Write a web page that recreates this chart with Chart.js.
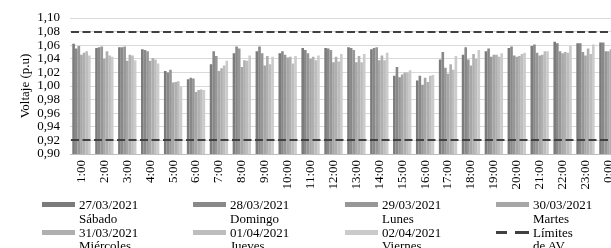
<!DOCTYPE html>
<html><head><meta charset="utf-8">
<script src="https://cdn.jsdelivr.net/npm/chart.js@4"></script>
<style>
html,body{margin:0;padding:0;overflow:hidden;background:#fff;width:611px;height:248px;}
#wrap{position:relative;width:611px;height:248px;overflow:hidden;}
canvas{position:absolute;left:0;top:0;}
.leg{position:absolute;font-family:"Liberation Serif",serif;font-size:13px;line-height:13.8px;color:#000;white-space:nowrap;}
.sw{position:absolute;left:0;width:33px;height:5px;}
.tx{position:absolute;left:37px;top:0;}
</style></head>
<body><div id="wrap"><canvas id="c" width="630" height="198"></canvas><div id="legend"></div></div>
<script>
const categories = ['1:00','2:00','3:00','4:00','5:00','6:00','7:00','8:00','9:00','10:00','11:00','12:00','13:00','14:00','15:00','16:00','17:00','18:00','19:00','20:00','21:00','22:00','23:00','0:00'];
const dates = ['27/03/2021','28/03/2021','29/03/2021','30/03/2021','31/03/2021','01/04/2021','02/04/2021'];
const days = ['Sábado','Domingo','Lunes','Martes','Miércoles','Jueves','Viernes'];
const colors = ['#7b7b7b','#898989','#979797','#a6a6a6','#afafaf','#bdbdbd','#cbcbcb'];

const v27 = [1.062,1.056,1.057,1.054,1.022,1.010,1.032,1.048,1.051,1.048,1.056,1.056,1.057,1.054,1.015,1.008,1.039,1.046,1.051,1.056,1.059,1.065,1.063,1.064];
const v28 = [1.055,1.057,1.057,1.053,1.020,1.012,1.051,1.058,1.058,1.051,1.053,1.055,1.056,1.056,1.028,1.015,1.050,1.057,1.055,1.058,1.061,1.063,1.063,1.064];
const v29 = [1.059,1.058,1.058,1.051,1.024,1.011,1.044,1.055,1.048,1.046,1.048,1.053,1.053,1.057,1.013,1.002,1.027,1.039,1.043,1.045,1.049,1.051,1.050,1.051];
const v30 = [1.046,1.040,1.037,1.037,1.005,0.991,1.022,1.028,1.030,1.042,1.040,1.035,1.035,1.038,1.017,1.012,1.018,1.030,1.046,1.043,1.045,1.048,1.045,1.051];
const v31 = [1.049,1.051,1.046,1.041,1.006,0.994,1.026,1.038,1.044,1.043,1.043,1.043,1.044,1.045,1.020,1.006,1.032,1.047,1.046,1.044,1.046,1.050,1.055,1.054];
const v01 = [1.051,1.045,1.045,1.039,1.007,0.995,1.030,1.037,1.032,1.033,1.038,1.036,1.035,1.038,1.020,1.015,1.024,1.040,1.043,1.047,1.051,1.049,1.047,1.050];
const v02 = [1.045,1.043,1.038,1.033,0.999,0.994,1.037,1.045,1.043,1.044,1.045,1.047,1.047,1.049,1.023,1.016,1.044,1.053,1.048,1.049,1.051,1.059,1.061,1.058];
const seriesValues = [v27,v28,v29,v30,v31,v01,v02];

const limits = [1.08, 0.92];
const limitLabel = ['Límites','de AV'];
const yTicks = {min:0.90, max:1.10, step:0.02};
const limitColor = '#404040';

const datasets = seriesValues.map((vals,i)=>({
  label:dates[i]+' '+days[i], data:vals, backgroundColor:colors[i], borderWidth:0,
  categoryPercentage:0.8, barPercentage:1.0
}));

const limitPlugin = {
  id:'limits',
  afterDatasetsDraw(chart){
    const {ctx, chartArea:a, scales:{y}} = chart;
    ctx.save();
    ctx.strokeStyle = limitColor; ctx.lineWidth = 2; ctx.setLineDash([8,3.5]);
    limits.forEach(v=>{
      const py = Math.round(y.getPixelForValue(v));
      ctx.beginPath(); ctx.moveTo(a.left+1, py); ctx.lineTo(a.right, py); ctx.stroke();
    });
    ctx.restore();
  }
};

const serif = 'Liberation Serif';
new Chart(document.getElementById('c'), {
  type:'bar',
  data:{labels:categories, datasets:datasets},
  plugins:[limitPlugin],
  options:{
    responsive:false, animation:false, devicePixelRatio:1,
    layout:{padding:{top:18,right:0,left:0,bottom:0}},
    plugins:{legend:{display:false}, tooltip:{enabled:false}},
    scales:{
      x:{offset:true,
         grid:{display:false, drawTicks:false},
         border:{display:true, color:'#bfbfbf', width:1},
         ticks:{autoSkip:false, minRotation:90, maxRotation:90, padding:6, color:'#000', font:{family:serif, size:13}},
         afterFit(s){ s.height = 44; }},
      y:{min:yTicks.min, max:yTicks.max,
         ticks:{stepSize:yTicks.step, autoSkip:false, padding:10, color:'#000', font:{family:serif, size:13},
                callback:(v)=>Number(v).toFixed(2).replace('.',',')},
         grid:{color:'#d9d9d9', drawTicks:false, lineWidth:1},
         border:{display:false},
         title:{display:true, text:'Voltaje (p.u)', color:'#000', font:{family:serif, size:13}, padding:{top:18,bottom:0}},
         afterFit(s){ s.width = 70; }}
    }
  }
});

// HTML legend (4 columns)
const legend = document.getElementById('legend');
const colX = [42,193,345,496];
const rowY = [197.8,225.5];
const items = dates.map((d,i)=>({lines:[d,days[i]], color:colors[i], dashed:false}));
items.push({lines:limitLabel, color:limitColor, dashed:true});
items.forEach((it,i)=>{
  const el = document.createElement('div');
  el.className='leg';
  el.style.left = colX[i%4]+'px';
  el.style.top = rowY[Math.floor(i/4)]+'px';
  const sw = document.createElement('span');
  sw.className='sw';
  if(it.dashed){
    sw.style.height='3px'; sw.style.top='5.5px';
    sw.style.background='linear-gradient(to right,'+it.color+' 0 11px,transparent 11px 19px,'+it.color+' 19px 33px)';
  } else {
    sw.style.top='4.5px';
    sw.style.background=it.color;
  }
  const tx = document.createElement('span');
  tx.className='tx';
  tx.innerHTML = it.lines.join('<br>');
  el.appendChild(sw); el.appendChild(tx);
  legend.appendChild(el);
});
</script>
</body></html>
